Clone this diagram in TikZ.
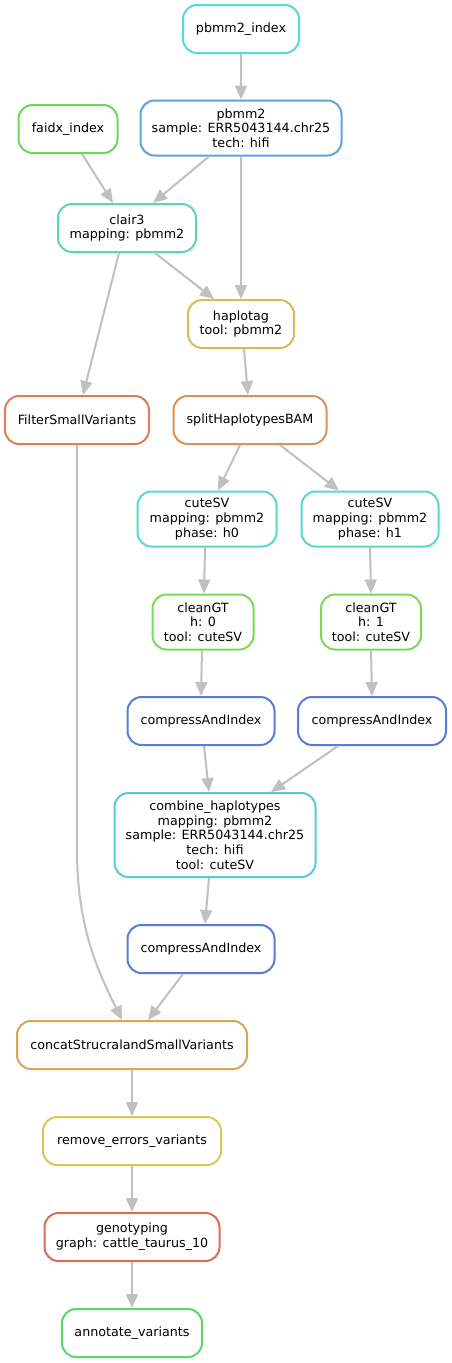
\documentclass[tikz,border=0pt]{standalone}
\usepackage{fontspec}
\setmainfont{DejaVu Sans}
\usetikzlibrary{arrows.meta}
\definecolor{cPbIdx}{HTML}{57D9D9}
\definecolor{cFaidx}{HTML}{6BD957}
\definecolor{cPbmm}{HTML}{57A5D9}
\definecolor{cClair}{HTML}{57D9AF}
\definecolor{cHaplo}{HTML}{D9B857}
\definecolor{cFilter}{HTML}{D98057}
\definecolor{cSplit}{HTML}{D99157}
\definecolor{cCute}{HTML}{57D9C8}
\definecolor{cClean}{HTML}{7AD957}
\definecolor{cComp}{HTML}{577CD9}
\definecolor{cComb}{HTML}{57C9D9}
\definecolor{cConcat}{HTML}{D9A557}
\definecolor{cRemove}{HTML}{D9C857}
\definecolor{cGeno}{HTML}{D96B57}
\definecolor{cAnnot}{HTML}{57D96B}
\definecolor{edgegray}{HTML}{C0C0C0}
\tikzset{
  rule/.style={draw=#1, line width=2pt, rounded corners=14pt, fill=white,
    inner sep=0pt, align=center, text=black,
    font=\fontsize{12.7}{14.7}\selectfont},
  edge/.style={draw=edgegray, line width=2pt,
    -{Triangle[length=14pt,width=12pt]}}
}
\begin{document}
\begin{tikzpicture}[x=1pt,y=-1pt]
\useasboundingbox[fill=white] (0,0) rectangle (451,1363);
% nodes
\node[rule=cPbIdx, minimum width=116pt, minimum height=48pt] (pbidx) at (241,29) {pbmm2\_index};
\node[rule=cFaidx, minimum width=99pt, minimum height=48pt] (faidx) at (68,129) {faidx\_index};
\node[rule=cPbmm, minimum width=201pt, minimum height=55pt] (pbmm) at (241,128) {pbmm2\\sample: ERR5043144.chr25\\tech: hifi};
\node[rule=cClair, minimum width=138pt, minimum height=48pt] (clair) at (127,228) {clair3\\mapping: pbmm2};
\node[rule=cHaplo, minimum width=106pt, minimum height=48pt] (haplo) at (241,324) {haplotag\\tool: pbmm2};
\node[rule=cFilter, minimum width=144pt, minimum height=48pt] (filter) at (77,420) {FilterSmallVariants};
\node[rule=cSplit, minimum width=153pt, minimum height=48pt] (split) at (250,420) {splitHaplotypesBAM};
\node[rule=cCute, minimum width=139pt, minimum height=55pt] (cute0) at (207,519) {cuteSV\\mapping: pbmm2\\phase: h0};
\node[rule=cCute, minimum width=137pt, minimum height=55pt] (cute1) at (370,519) {cuteSV\\mapping: pbmm2\\phase: h1};
\node[rule=cClean, minimum width=101pt, minimum height=55pt] (clean0) at (203,622) {cleanGT\\h: 0\\tool: cuteSV};
\node[rule=cClean, minimum width=100pt, minimum height=55pt] (clean1) at (371,622) {cleanGT\\h: 1\\tool: cuteSV};
\node[rule=cComp, minimum width=147pt, minimum height=48pt] (comp0) at (201,721) {compressAndIndex};
\node[rule=cComp, minimum width=148pt, minimum height=48pt] (comp1) at (372,721) {compressAndIndex};
\node[rule=cComb, minimum width=201pt, minimum height=84pt] (comb) at (215,835) {combine\_haplotypes\\mapping: pbmm2\\sample: ERR5043144.chr25\\tech: hifi\\tool: cuteSV};
\node[rule=cComp, minimum width=147pt, minimum height=48pt] (comp2) at (201,949) {compressAndIndex};
\node[rule=cConcat, minimum width=230pt, minimum height=48pt] (concat) at (132,1045) {concatStrucralandSmallVariants};
\node[rule=cRemove, minimum width=178pt, minimum height=48pt] (remove) at (132,1141) {remove\_errors\_variants};
\node[rule=cGeno, minimum width=175pt, minimum height=48pt] (geno) at (132,1237) {genotyping\\graph: cattle\_taurus\_10};
\node[rule=cAnnot, minimum width=140pt, minimum height=48pt] (annot) at (132,1333) {annotate\_variants};
% edges
\draw[edge] (pbidx.south) -- (pbmm.north);
\draw[edge] ([xshift=14pt]faidx.south) -- ([xshift=-14pt]clair.north);
\draw[edge] ([xshift=-32pt]pbmm.south) -- ([xshift=26pt]clair.north);
\draw[edge] (pbmm.south) -- (haplo.north);
\draw[edge] ([xshift=28pt]clair.south) -- ([xshift=-27pt]haplo.north);
\draw[edge] ([xshift=-8pt]clair.south) -- ([xshift=6pt]filter.north);
\draw[edge] ([xshift=3pt]haplo.south) -- ([xshift=-2pt]split.north);
\draw[edge] ([xshift=-10pt]split.south) -- ([xshift=11pt]cute0.north);
\draw[edge] ([xshift=30pt]split.south) -- ([xshift=-31pt]cute1.north);
\draw[edge] ([xshift=-2pt]cute0.south) -- ([xshift=1pt]clean0.north);
\draw[edge] (cute1.south) -- (clean1.north);
\draw[edge] ([xshift=-1pt]clean0.south) -- (comp0.north);
\draw[edge] (clean1.south) -- (comp1.north);
\draw[edge] ([xshift=3pt]comp0.south) -- ([xshift=-6pt]comb.north);
\draw[edge] ([xshift=-34pt]comp1.south) -- ([xshift=56pt]comb.north);
\draw[edge] ([xshift=-6pt]comb.south) -- ([xshift=4pt]comp2.north);
\draw[edge] ([xshift=-18pt]comp2.south) -- ([xshift=16pt]concat.north);
\coordinate (bend) at (77,850);
\draw[edge] (filter.south) -- (bend) .. controls (77,930) and (100,975) .. ([xshift=-10pt]concat.north);
\draw[edge] (concat.south) -- (remove.north);
\draw[edge] (remove.south) -- (geno.north);
\draw[edge] (geno.south) -- (annot.north);
\end{tikzpicture}
\end{document}
